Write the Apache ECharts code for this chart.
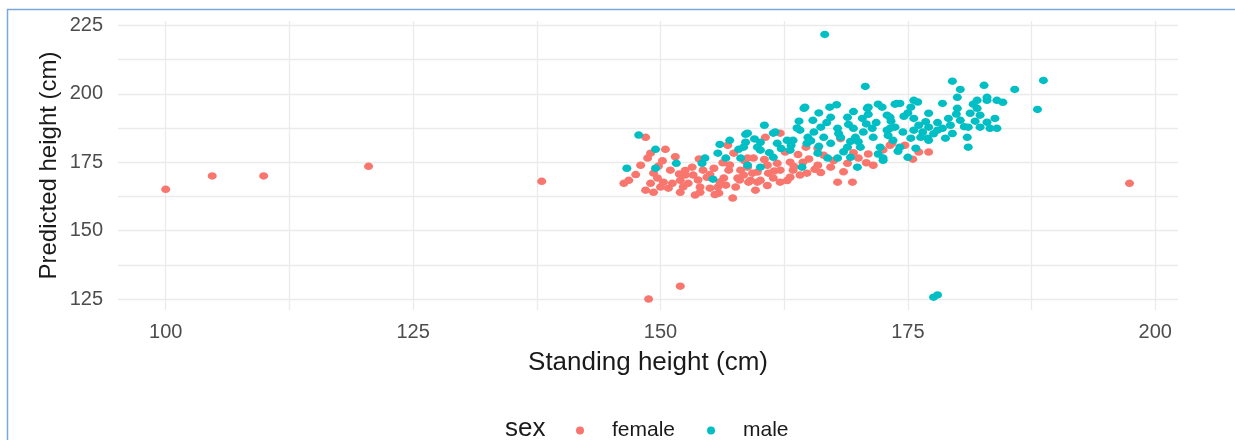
<!DOCTYPE html>
<html>
<head>
<meta charset="utf-8">
<script src="https://cdn.jsdelivr.net/npm/echarts@6/dist/echarts.min.js"></script>
<style>
html,body{margin:0;padding:0;background:#fff;}
#c{width:1235px;height:440px;}
</style>
</head>
<body>
<div id="c"></div>
<script>
const xLabelValues = [100, 125, 150, 175, 200];
const xGridValues = [100, 112.5, 125, 137.5, 150, 162.5, 175, 187.5, 200];
const yLabelValues = [125, 150, 175, 200, 225];
const yGridValues = [125, 137.5, 150, 162.5, 175, 187.5, 200, 212.5, 225];
const seriesNames = ['female', 'male'];

const femalePoints = [
[100,165.1],[104.7,170],[109.9,170],[120.5,173.5],[138,168],[148.8,125],[152,129.7],[197.4,167.3],
[148.5,184.1],[149,178.3],[150.5,179.7],[148.7,176.5],[146.8,168.4],[146.3,167.3],[149.3,171],[149.7,169.2],[149,167.3],[149.3,164],[150.3,167.7],[151,172.1],[151.2,167.3],[152,168.4],[152,164],[152.8,167.3],[153.2,173.2],[153.3,170.3],[154,165.9],[154.3,172.1],[154.7,169.5],[154,164],[155.4,172.8],[155.8,165.9],[155.9,163.7],[156.4,169.2],[156.8,181.2],[156.9,172.1],[157.4,178.3],[157.3,161.9],[157.6,165.9],[157.8,169.2],[158.1,172.1],[158.9,167.7],[159.3,171],[159.6,164.8],[159.8,167.7],
[148,173.9],[150,165.9],[148.5,164.8],[150.8,165.5],[152.5,170.3],[153.5,163],[155,165.5],[156.6,166.6],
[162.1,185.6],[160.6,184.1],[162.6,178.7],[168.2,183.6],[173.4,181.9],[165.9,180.1],[158.8,176.5],[159.4,176.5],[160.8,173.9],[161.8,174.6],[163.1,175],[164.4,175],[158.8,173.2],[159.8,171.4],[160.9,171],[162.1,172.1],[163.4,172.1],[164.8,171],[163.1,169.5],[161.4,169.2],[159.1,168.4],[160.1,168.4],[165.9,173.9],[167.2,173.2],[167.9,167.7],[169.4,167.7],[168.9,174.6],[171.5,173.9],[162.1,167.7],[164.1,170.3],[158.4,170.3],
[173.2,181.2],[174.7,181.2],[176.1,178.7],[177.1,178.7],[175.5,176.1],
[150.2,175.5],[151.5,177],[152.5,172],[153.8,168.5],[155,170.5],[156,167.8],[157,174],[158.5,175.5],[160.5,176],[161.5,171.8],[162.8,168.3],[163.5,173.4],[165,176.2],[166.2,171.2],[167.5,175.6],[168.5,171.5],[170,176.5],[171,178],[172.5,179.5],[149.8,173.6],[147.5,170.5],[152.3,166],[155.5,163.2],[158,168.5],[160.8,166.5],[164.7,180.5],
[166.5,177.5],[169.5,178.5],[170.8,174.8],[165.6,172.4],[163.9,177.8],[156.3,174.8],[153.9,176.2],[151.9,170.7]
];

const malePoints = [
[166.6,221.7],[177.6,125.7],[178,126.5],
[147.8,184.9],[149.5,179.7],[146.6,172.8],[151.6,174.6],[149.5,172.8],[154.2,174.6],[155.3,168.8],[158.6,185.2],[158.6,182.3],[157.9,179.7],[156.6,176.5],[158.1,176.5],[155.8,178.3],[159.8,180.5],[158.8,173.9],
[164.6,195.1],[167.1,195.1],[171,195.1],[172,196.2],[173.7,196.2],[172.9,192.2],[167.2,191.4],[168.9,191.4],[165.4,190.3],[170.4,191],[166.2,187.8],[167.9,187.4],[169.5,187.4],[171.4,187.4],[173.2,187.4],[164.1,186.7],[164.9,184.1],[166.5,184.1],[168.2,184.1],[169.7,184.1],[171.5,184.1],[163.4,183],[161.4,185.6],[158.8,185.6],[160.1,182.3],[161.8,181.9],[162.8,183],[164.8,181.9],[167.2,181.9],[168.9,180.5],[170.2,180.5],[172.2,180.5],[158.4,180.5],[160.1,179.4],[163.1,179.4],[165.9,178.3],[166.9,176.5],[169.2,176.8],[172.5,176.5],[161.4,176.8],[160.1,173.2],[164.3,173.2],[167.9,176.5],[169.9,173.2],
[179.5,204.6],[182.7,203.1],[185.8,201.6],[180.3,201.6],[180,198.7],[183,198.7],[183,197.6],[184,197.6],[182,197.6],[180,194.7],[182,194.7],[181.3,192.9],[182.3,192.2],[183,189.6],[183.3,187.4],[184,187.4],[182.3,187.8],[181.1,187.8],[180.3,190.3],[179.1,191],[179.3,188.5],[178.5,187.4],[178,186.7],[178.8,183.8],[181,184.1],[181.1,180.5],[177.1,187.8],[177.1,183],[175.6,191],[175.6,197.6],[174.2,196.5],[175.3,195.1],[175.6,186.7],[176.1,188.5],[176.3,184.1],[175.3,183.8],[174.5,186],[173.7,187.8],[173.2,191.4],[172.4,195.1],[172.9,186.7],[173.5,183],[174.2,180.5],[175,176.8],[172.5,175.7],[175.8,180.1],[177.1,192.9],[177,183.8],
[188.7,204.9],[188.1,194.3],[170.7,202.7],[164.5,194.7],[170.9,194.7],[173.9,196.5],[161.6,186],[184.6,196.9],
[164,190],[165.5,186],[166.8,189.5],[168,185.5],[169,188.8],[170.5,186],[171.8,189.5],[173,184.8],[170,182.5],[168.5,178.8],[166,180.8],[163.8,187.5],[162.2,180],[161,178.5],[172,178],[174,179],[176.5,186],[178,189.5],[179.5,185.5],[181.8,190],[183.8,191],[180.7,188],[176.8,189.8],[175,193],[173.3,190],[171,192.5],[169.5,193.5],[167.8,196],[166,193],[176,197],[178.5,196.5],[160.5,188.5],[159.5,183.5],[157,183],[156,181.5],[154.5,176.5],
[163.2,181.2],[165.2,182.8],[170.8,189],[174.6,191.8],[177.6,185.4],[179.9,192.6],[181.6,196.2],[169.2,182.6]
];

const FONT = '"Liberation Sans", Arial, sans-serif';
const chart = echarts.init(document.getElementById('c'), null, {renderer: 'canvas'});
chart.setOption({
  backgroundColor: '#ffffff',
  animation: false,
  textStyle: {fontFamily: FONT},
  grid: {left: 118, right: 57, top: 21, bottom: 130, containLabel: false},
  xAxis: {
    type: 'value', min: 95.18, max: 202.3,
    name: 'Standing height (cm)', nameLocation: 'middle', nameGap: 40, nameMoveOverlap: false,
    nameTextStyle: {fontSize: 26, color: '#1a1a1a', fontFamily: FONT},
    axisLine: {show: false},
    axisTick: {show: false, customValues: xGridValues},
    axisLabel: {customValues: xLabelValues, fontSize: 20, color: '#4d4d4d', margin: 12, fontFamily: FONT},
    splitLine: {show: true, lineStyle: {color: '#ebebeb', width: 1.3}}
  },
  yAxis: {
    type: 'value', min: 121, max: 226.6,
    name: 'Predicted height (cm)', nameLocation: 'middle', nameGap: 57, nameMoveOverlap: false,
    nameTextStyle: {fontSize: 24, color: '#1a1a1a', fontFamily: FONT},
    axisLine: {show: false},
    axisTick: {show: false, customValues: yGridValues},
    axisLabel: {customValues: yLabelValues, fontSize: 20, color: '#4d4d4d', margin: 15, fontFamily: FONT},
    splitLine: {show: true, lineStyle: {color: '#ebebeb', width: 1.3}}
  },
  legend: {
    data: seriesNames,
    left: 571, top: 415,
    icon: 'circle', itemWidth: 8, itemHeight: 8, itemGap: 32,
    textStyle: {fontSize: 21, color: '#1a1a1a', fontFamily: FONT, padding: [0, 0, 0, 23]}
  },
  graphic: [
    {type: 'text', left: 505, top: 416, style: {text: 'sex', fontSize: 26, fill: '#1a1a1a', fontFamily: FONT}},
    {type: 'rect', silent: true, z: 100,
     shape: {x: 7.5, y: 9.5, width: 1240, height: 445},
     style: {fill: 'none', stroke: '#7aa7de', lineWidth: 1.5}}
  ],
  series: [
    {name: seriesNames[0], type: 'scatter', data: femalePoints, symbolSize: [9, 7.5],
     itemStyle: {color: '#F8766D', opacity: 1}},
    {name: seriesNames[1], type: 'scatter', data: malePoints, symbolSize: [9, 7.5],
     itemStyle: {color: '#00BFC4', opacity: 1}}
  ]
});
</script>
</body>
</html>
